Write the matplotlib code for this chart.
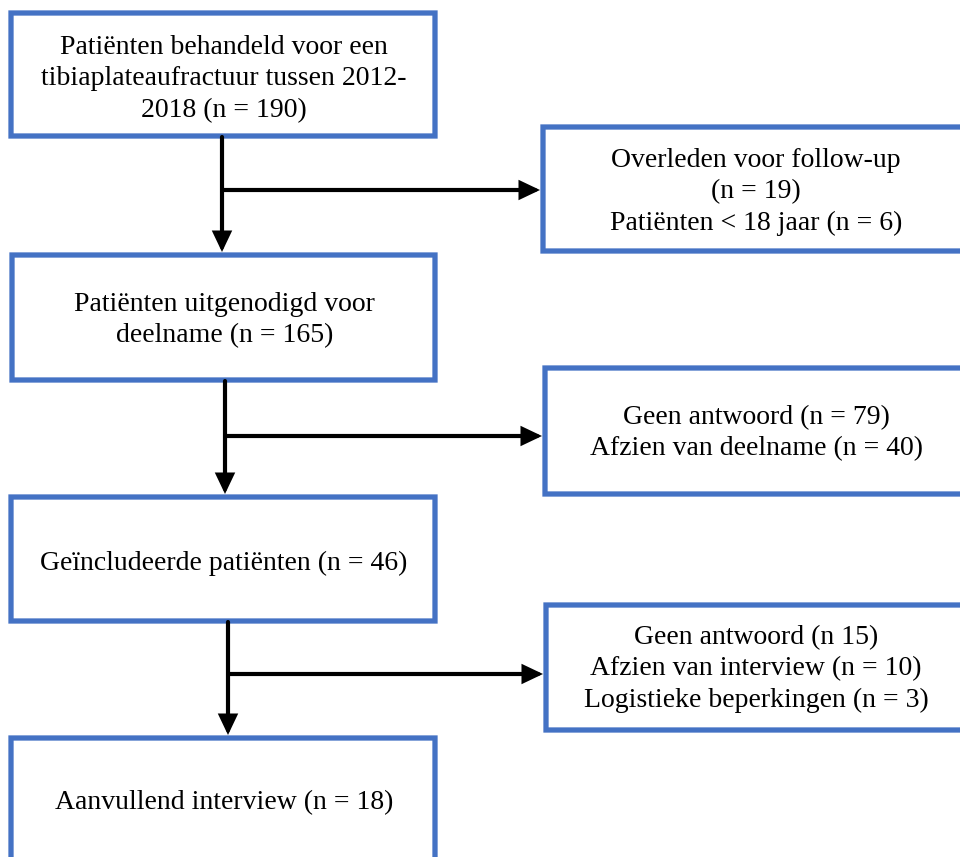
import matplotlib
matplotlib.use("Agg")
import matplotlib.pyplot as plt
from matplotlib.patches import Polygon

# ---- content ----
main_texts = [
    "Patiënten behandeld voor een\ntibiaplateaufractuur tussen 2012-\n2018 (n = 190)",
    "Patiënten uitgenodigd voor\ndeelname (n = 165)",
    "Geïncludeerde patiënten (n = 46)",
    "Aanvullend interview (n = 18)",
]
side_texts = [
    "Overleden voor follow-up\n(n = 19)\nPatiënten < 18 jaar (n = 6)",
    "Geen antwoord (n = 79)\nAfzien van deelname (n = 40)",
    "Geen antwoord (n 15)\nAfzien van interview (n = 10)\nLogistieke beperkingen (n = 3)",
]

# ---- layout (pixel coordinates, y downward) ----
main_boxes = [(11, 13, 435, 136), (12, 255, 435, 380), (11, 497, 435, 621), (11, 738, 435, 900)]
main_text_y = [79, 320, 563, 803]
side_boxes = [(543, 127, 1000, 251), (545, 368, 1000, 494), (546, 605, 1000, 730)]
side_text_y = [192, 433, 669]
side_text_x = 756
trunk_x = [222, 225, 228]
branch_y = [190, 436, 674]

BLUE = "#4472C4"
W, H = 960, 857
fig = plt.figure(figsize=(W / 100, H / 100), dpi=100)
ax = fig.add_axes([0, 0, 1, 1])
ax.set_xlim(0, W)
ax.set_ylim(H, 0)
ax.axis("off")

font = dict(family=["Liberation Serif", "DejaVu Serif"], fontsize=20, color="black",
            ha="center", va="center", linespacing=1.33)

def box(x0, y0, x1, y1):
    xm = (x0 + x1) / 2
    pts = [(xm, y1), (x0, y1), (x0, y0), (x1, y0), (x1, y1)]
    p = Polygon(pts, closed=True, fill=False, edgecolor=BLUE, lw=3.8, joinstyle="miter")
    p.set_snap(False)
    ax.add_patch(p)

for (x0, y0, x1, y1), t, ty in zip(main_boxes, main_texts, main_text_y):
    box(x0, y0, x1, y1)
    ax.text((x0 + x1) / 2 + 1, ty, t, **font)

for (x0, y0, x1, y1), t, ty in zip(side_boxes, side_texts, side_text_y):
    box(x0, y0, x1, y1)
    ax.text(side_text_x, ty, t, **font)

arrow_kw = dict(arrowstyle="-|>,head_length=1.05,head_width=0.5", color="black",
                lw=3.0, shrinkA=0, shrinkB=0, mutation_scale=10, joinstyle="miter")
for i in range(3):
    x = trunk_x[i]
    top = main_boxes[i][3] + 1
    bottom = main_boxes[i + 1][1] - 3
    ax.annotate("", xy=(x, bottom), xytext=(x, top), arrowprops=arrow_kw)
    ax.annotate("", xy=(side_boxes[i][0] - 3, branch_y[i]), xytext=(x, branch_y[i]),
                arrowprops=arrow_kw)

fig.savefig("out.png", dpi=100, facecolor="white")
